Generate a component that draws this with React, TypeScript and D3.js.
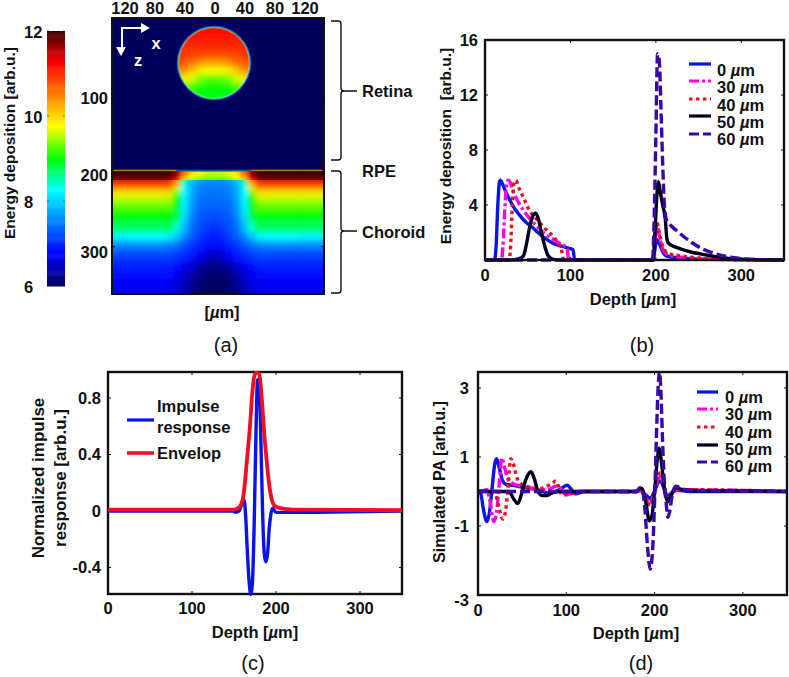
import React, { useEffect, useRef } from 'react';
import * as d3 from 'd3';

type Pt = [number, number];

// (a) colour map
const jetValues = [6, 6.75, 8.25, 9, 9.75, 11.25, 12];
const jetColors = ['#00005c', '#0000ff', '#00ffff', '#00ff00', '#ffff00', '#ff0000', '#3a0000'];
const colorbarTicks = [6, 8, 10, 12];
const lateralTicks = [-120, -80, -40, 0, 40, 80, 120];
const depthTicksA = [100, 200, 300];

// (a) choroid field: one half, mirrored about x = 0
const choroidCols = [0, 10, 20, 30, 40, 50, 60, 70, 160];
const bandRows = [198, 202, 206, 209];
const bandField = [
  [9.6, 9.6, 9.7, 9.9, 10.6, 11.7, 12, 12, 12],
  [9.6, 9.6, 9.7, 9.9, 10.6, 11.7, 12, 12, 12],
  [9.5, 9.5, 9.6, 9.8, 10.4, 11.6, 11.9, 11.9, 11.9],
  [9.3, 9.3, 9.4, 9.6, 10.1, 11.2, 11.7, 11.8, 11.8],
];
const choroidRows = [212, 216, 220, 228, 235, 244, 257, 275, 287, 297, 311, 324, 337, 349, 362];
const choroidField = [
  [7.65, 7.65, 7.75, 8, 8.7, 10.7, 11.3, 11.4, 11.4],
  [7.55, 7.55, 7.6, 7.8, 8.35, 10.2, 11, 11.05, 11.05],
  [7.5, 7.5, 7.55, 7.75, 8.25, 9.9, 10.6, 10.6, 10.6],
  [7.45, 7.45, 7.5, 7.75, 8.25, 9.3, 9.9, 9.9, 9.9],
  [7.4, 7.4, 7.45, 7.7, 8.2, 9.0, 9.55, 9.6, 9.6],
  [7.35, 7.35, 7.4, 7.65, 8.15, 8.95, 9.3, 9.3, 9.3],
  [7.2, 7.25, 7.3, 7.55, 8.05, 8.8, 9.0, 9.0, 9.0],
  [7.05, 7.1, 7.2, 7.4, 7.85, 8.4, 8.8, 8.75, 8.75],
  [6.9, 6.95, 7.1, 7.3, 7.55, 7.9, 8.2, 8.25, 8.2],
  [6.8, 6.85, 6.95, 7.05, 7.2, 7.4, 7.5, 7.55, 7.55],
  [6.5, 6.55, 6.75, 6.9, 7, 7.1, 7.15, 7.15, 7.15],
  [6.2, 6.25, 6.4, 6.55, 6.7, 6.85, 6.95, 6.95, 6.95],
  [6.05, 6.1, 6.2, 6.35, 6.55, 6.7, 6.8, 6.85, 6.85],
  [6, 6.02, 6.1, 6.25, 6.45, 6.6, 6.7, 6.75, 6.75],
  [5.98, 6, 6.05, 6.15, 6.35, 6.5, 6.6, 6.65, 6.65],
];

// (a) vessel cross-section
const vesselCenter = 55;
const vesselRadius = 48;
const vesselCols = [0, 10, 20, 30, 40, 50];
const vesselRows = [5, 15, 25, 35, 45, 55, 65, 75, 85, 95, 105];
const vesselField = [
  [11.15, 11.15, 11.15, 11.15, 11.15, 11.15],
  [11.15, 11.15, 11.15, 11.15, 11.15, 11.15],
  [11.1, 11.1, 11.1, 11.1, 11.1, 11.1],
  [11, 11, 11, 11, 11, 11.05],
  [10.75, 10.75, 10.8, 10.85, 10.9, 11],
  [10.3, 10.3, 10.4, 10.6, 10.7, 10.8],
  [9.75, 9.75, 9.85, 10.1, 10.4, 10.5],
  [9.25, 9.3, 9.4, 9.65, 9.85, 10],
  [9.05, 9.05, 9.1, 9.25, 9.4, 9.5],
  [8.95, 8.95, 9, 9.05, 9.2, 9.2],
  [8.9, 8.9, 8.9, 9, 9.1, 9.1],
];

// (b) energy deposition
const energy0: Pt[] = [[0, 0], [11, 0], [13, 1], [15, 4], [17, 5.7], [18, 5.8], [20, 5.6], [24, 5], [28, 4.5], [33, 3.9], [40, 3.3], [47, 2.8], [55, 2.4], [62, 2], [70, 1.6], [80, 1.2], [90, 1], [98, 0.85], [103, 0.75], [105, 0], [197, 0], [199, 0.8], [201, 1.5], [204, 1.2], [208, 0.6], [212, 0.3], [220, 0.2], [240, 0.1], [260, 0.05], [350, 0]];
const energy30: Pt[] = [[0, 0], [19, 0], [21, 1], [23, 3.5], [25, 5.3], [27, 5.8], [29, 5.7], [33, 5], [40, 4.1], [50, 3.2], [60, 2.5], [70, 1.9], [80, 1.5], [90, 1.1], [96, 0.9], [98, 0], [197, 0], [199, 1.5], [201, 2.5], [204, 1.8], [208, 0.8], [214, 0.4], [230, 0.2], [250, 0.1], [280, 0.03], [350, 0]];
const energy40: Pt[] = [[0, 0], [28, 0], [30, 1], [32, 4], [34, 5.6], [36, 5.8], [40, 5.2], [46, 4.4], [52, 3.6], [60, 3], [70, 2.3], [80, 1.7], [86, 1.2], [90, 0.6], [92, 0], [197, 0], [199, 1.8], [201, 2.8], [204, 2], [208, 1], [214, 0.5], [230, 0.3], [250, 0.15], [280, 0.05], [350, 0]];
const energy50: Pt[] = [[0, 0], [30, 0], [40, 0.1], [45, 0.3], [48, 1], [52, 2.3], [56, 3.2], [59, 3.4], [62, 3.1], [66, 2], [70, 1], [74, 0.3], [80, 0.05], [90, 0], [197, 0], [199, 2], [201, 4.5], [203, 5.7], [205, 5], [208, 4], [211, 3], [213, 1.5], [215, 1.2], [225, 0.9], [240, 0.6], [260, 0.35], [280, 0.15], [300, 0.05], [350, 0]];
const energy60: Pt[] = [[0, 0], [196, 0], [198, 3], [200, 9], [202, 15], [204, 14.5], [206, 11], [208, 7], [210, 4], [212, 3], [215, 2.7], [225, 2.1], [240, 1.35], [255, 0.8], [270, 0.45], [285, 0.22], [300, 0.1], [320, 0.03], [350, 0]];

// (c) impulse response
const impulse: Pt[] = [[0, 0], [148, 0], [152, -0.01], [156, 0], [160, 0.06], [162, 0.08], [164, -0.05], [166, -0.3], [168, -0.5], [170, -0.59], [172, -0.5], [174, -0.1], [176, 0.5], [178, 0.93], [180, 0.9], [182, 0.5], [184, 0], [186, -0.3], [188, -0.36], [190, -0.3], [192, -0.12], [194, -0.02], [196, 0.02], [200, -0.01], [210, -0.01], [350, 0]];
const envelop: Pt[] = [[0, 0.01], [150, 0.01], [155, 0.02], [158, 0.04], [161, 0.1], [163, 0.2], [166, 0.4], [169, 0.6], [172, 0.85], [175, 0.97], [177, 0.98], [180, 0.97], [183, 0.8], [186, 0.55], [189, 0.35], [192, 0.18], [195, 0.08], [198, 0.04], [205, 0.02], [220, 0.01], [350, 0.005]];

// (d) simulated PA
const pa0: Pt[] = [[0, 0], [3, -0.05], [6, -0.5], [10, -0.87], [13, -0.6], [16, 0.1], [19, 0.8], [21, 0.95], [24, 0.7], [28, 0.3], [32, 0.2], [40, 0.18], [50, 0.12], [60, 0.08], [70, 0.03], [80, -0.05], [88, 0], [95, 0.1], [101, 0.18], [106, 0.05], [110, -0.07], [114, -0.05], [120, 0], [180, 0], [184, 0.03], [190, -0.1], [195, -0.2], [199, -0.05], [204, 0.25], [207, 0.3], [211, 0.05], [215, -0.12], [220, -0.02], [225, 0.03], [240, 0], [350, 0]];
const pa30: Pt[] = [[0, 0], [5, 0.02], [10, 0.05], [13, -0.2], [18, -0.87], [21, -0.6], [24, 0.2], [27, 0.97], [30, 0.7], [34, 0.35], [40, 0.22], [50, 0.15], [60, 0.1], [70, 0.05], [80, 0.05], [88, 0.15], [93, 0.1], [97, -0.05], [103, -0.08], [110, -0.03], [120, 0], [180, 0], [184, 0.03], [190, -0.15], [195, -0.35], [199, -0.1], [204, 0.35], [207, 0.42], [211, 0.1], [215, -0.2], [220, -0.03], [228, 0.05], [350, 0]];
const pa40: Pt[] = [[0, 0], [15, 0.02], [20, -0.1], [24, -0.5], [28, -0.8], [31, -0.6], [34, 0.1], [37, 0.95], [40, 0.8], [44, 0.4], [50, 0.2], [60, 0.12], [70, 0.08], [78, 0.15], [85, 0.25], [88, 0.3], [92, 0.1], [95, -0.1], [100, -0.1], [110, -0.03], [120, 0], [180, 0], [184, 0.03], [190, -0.2], [195, -0.4], [199, -0.1], [204, 0.45], [207, 0.55], [211, 0.15], [215, -0.25], [220, -0.03], [228, 0.05], [350, 0]];
const pa50: Pt[] = [[0, 0], [35, 0], [40, -0.2], [45, -0.35], [49, -0.1], [53, 0.25], [57, 0.5], [60, 0.57], [64, 0.35], [68, 0], [73, -0.12], [78, -0.12], [85, -0.03], [92, 0], [180, 0], [183, 0.1], [186, 0.08], [190, -0.3], [194, -0.85], [197, -0.7], [200, 0], [203, 0.9], [205, 1.25], [208, 0.8], [211, 0.1], [215, -0.3], [219, -0.1], [224, 0.1], [232, 0.05], [245, 0.02], [350, 0]];
const pa60: Pt[] = [[0, 0], [180, 0], [183, 0.1], [186, 0.05], [189, -0.5], [192, -1.6], [195, -2.25], [198, -1.6], [200, -0.3], [202, 1.5], [204, 3], [205.5, 3.46], [207, 3], [209, 1.5], [211, 0.3], [213, -0.3], [215, -0.75], [217, -0.6], [220, -0.1], [224, 0.15], [232, 0.07], [245, 0.03], [350, 0]];

const widthLabels = ['0', '30', '40', '50', '60'];
const widthColors = ['#0a14e6', '#ff00e6', '#e0141c', '#00001e', '#3a08a8'];
const widthDashes = ['none', '10 3 3 3', '3.5 3.5', 'none', '10 4'];
const depthTicks = [0, 100, 200, 300];

const FONT = '"Liberation Sans", Arial, sans-serif';
const FS = 16.5;

const App: React.FC = () => {
  const svgRef = useRef<SVGSVGElement>(null);

  useEffect(() => {
    const svg = d3.select(svgRef.current);
    svg.selectAll('*').remove();
    const defs = svg.append('defs');

    const jet = d3.scaleLinear<string>().domain(jetValues).range(jetColors).clamp(true);

    const label = (x: number, y: number, str: string, anchor = 'middle', rotate = false, size = FS) => {
      const t = svg.append('text')
        .attr('font-family', FONT)
        .attr('font-size', size)
        .attr('font-weight', 'bold')
        .attr('fill', '#111')
        .attr('text-anchor', anchor)
        .attr('dominant-baseline', 'central')
        .style('white-space', 'pre');
      if (rotate) t.attr('transform', `translate(${x},${y}) rotate(-90)`);
      else t.attr('x', x).attr('y', y);
      // the micro sign is italic in all the labels
      str.split('µ').forEach((part, i) => {
        if (i > 0) t.append('tspan').attr('font-style', 'italic').text('µ');
        t.append('tspan').text(part);
      });
      return t;
    };

    // midpoints between table positions, outer cells run on past the clip
    const edges = (vals: number[], pad: number) => {
      const mids = d3.pairs(vals).map(([a, b]) => (a + b) / 2);
      return [vals[0] - pad, ...mids, vals[vals.length - 1] + pad];
    };

    // ---------- (a) ----------
    const hx = d3.scaleLinear().domain([-140, 140]).range([109, 319]);
    const hy = d3.scaleLinear().domain([-5, 363]).range([18, 294]);
    const tickX = d3.scaleLinear().domain([-120, 120]).range([125, 305]);
    const depthLabelY = d3.scaleLinear().domain([100, 300]).range([98, 252]);

    svg.append('rect').attr('x', 112).attr('y', 18).attr('width', 212).attr('height', 276).attr('fill', jet(6));

    const addBlur = (id: string, std: string) => {
      defs.append('filter').attr('id', id).attr('filterUnits', 'userSpaceOnUse')
        .attr('x', 60).attr('y', 0).attr('width', 320).attr('height', 340)
        .append('feGaussianBlur').attr('stdDeviation', std);
    };
    addBlur('blurVessel', '2.2 3');
    addBlur('blurChoroid', '2.4 3');
    addBlur('blurBand', '2 0.8');
    addBlur('blurRim', '0.4');

    defs.append('clipPath').attr('id', 'clipChoroid').append('rect')
      .attr('x', 113).attr('y', hy(199.5)).attr('width', 210).attr('height', 294 - hy(199.5));
    defs.append('clipPath').attr('id', 'clipBand').append('rect')
      .attr('x', 113).attr('y', hy(199.5)).attr('width', 210).attr('height', hy(211) - hy(199.5));
    defs.append('clipPath').attr('id', 'clipVessel').append('circle')
      .attr('cx', hx(0)).attr('cy', hy(vesselCenter)).attr('r', hx(vesselRadius) - hx(0));

    const drawField = (id: string, blur: string, cols: number[], rows: number[], field: number[][]) => {
      const g = svg.append('g').attr('clip-path', `url(#${id})`).append('g').attr('filter', `url(#${blur})`);
      const ce = edges(cols, 0);
      const re = edges(rows, 16);
      rows.forEach((_, r) => {
        cols.forEach((_, c) => {
          [-1, 1].forEach(side => {
            const x0 = hx(side * ce[c]);
            const x1 = hx(side * ce[c + 1]);
            g.append('rect')
              .attr('x', Math.min(x0, x1))
              .attr('y', hy(re[r]))
              .attr('width', Math.abs(x1 - x0) + 0.5)
              .attr('height', hy(re[r + 1]) - hy(re[r]) + 0.5)
              .attr('fill', jet(field[r][c]));
          });
        });
      });
    };
    drawField('clipChoroid', 'blurChoroid', choroidCols, choroidRows, choroidField);
    drawField('clipBand', 'blurBand', choroidCols, bandRows, bandField);
    drawField('clipVessel', 'blurVessel', vesselCols, vesselRows, vesselField);

    // vessel rim
    const rim = hx(vesselRadius) - hx(0);
    const rimG = svg.append('g').attr('fill', 'none').attr('filter', 'url(#blurRim)');
    rimG.append('circle').attr('cx', hx(0)).attr('cy', hy(vesselCenter)).attr('r', rim + 0.8)
      .attr('stroke', '#0a5cf0').attr('stroke-width', 1);
    rimG.append('circle').attr('cx', hx(0)).attr('cy', hy(vesselCenter)).attr('r', rim)
      .attr('stroke', '#20e8d0').attr('stroke-width', 0.7);
    rimG.append('circle').attr('cx', hx(0)).attr('cy', hy(vesselCenter)).attr('r', rim - 0.8)
      .attr('stroke', '#c8f050').attr('stroke-width', 0.7).attr('opacity', 0.7);

    // RPE line
    [[-134, -50, 10.3, 1], [-50, 50, 8.2, 0.5], [50, 145, 10.3, 1]].forEach(([a, b, v, o]) => {
      svg.append('line').attr('x1', hx(a)).attr('x2', hx(b)).attr('y1', hy(198)).attr('y2', hy(198))
        .attr('stroke', jet(v)).attr('stroke-width', 1.1).attr('opacity', o);
    });

    svg.append('rect').attr('x', 112).attr('y', 18).attr('width', 212).attr('height', 276)
      .attr('fill', 'none').attr('stroke', '#111').attr('stroke-width', 2);
    depthTicksA.forEach(d => {
      svg.append('line').attr('x1', 112).attr('x2', 115).attr('y1', hy(d)).attr('y2', hy(d)).attr('stroke', '#111');
      svg.append('line').attr('x1', 321).attr('x2', 324).attr('y1', hy(d)).attr('y2', hy(d)).attr('stroke', '#111');
      label(108, depthLabelY(d), String(d), 'end');
    });
    lateralTicks.forEach(d => label(tickX(d), 8, String(Math.abs(d))));
    label(222, 312, '[µm]');

    // x / z arrows
    const white = svg.append('g').attr('stroke', '#fff').attr('stroke-width', 2).attr('fill', 'none');
    white.append('path').attr('d', 'M143,28 H122 V47');
    svg.append('path').attr('d', 'M141,23 L150,28 L141,33 Z').attr('fill', '#fff');
    svg.append('path').attr('d', 'M116,47 L121,56 L126,47 Z').attr('fill', '#fff');
    label(156, 43, 'x').attr('fill', '#fff');
    label(138, 60, 'z').attr('fill', '#fff');

    // colour bar
    const cy = d3.scaleLinear().domain([6, 12]).range([286, 31]);
    d3.range(6, 12, 0.025).forEach(v => {
      svg.append('rect').attr('x', 47).attr('width', 18).attr('y', cy(v + 0.025)).attr('height', cy(v) - cy(v + 0.025) + 0.5)
        .attr('fill', jet(v));
    });
    colorbarTicks.forEach(v => {
      label(24, cy(v) + 1, String(v), 'start');
      svg.append('line').attr('x1', 47).attr('x2', 49).attr('y1', cy(v)).attr('y2', cy(v)).attr('stroke', '#333').attr('stroke-width', 0.6);
      svg.append('line').attr('x1', 63).attr('x2', 65).attr('y1', cy(v)).attr('y2', cy(v)).attr('stroke', '#333').attr('stroke-width', 0.6);
    });
    label(9, 143, 'Energy deposition [arb.u.]', 'middle', true, 15.5);

    // brackets
    const bracket = (y0: number, y1: number, ym: number) => {
      svg.append('path')
        .attr('d', `M331,${y0} H338 Q341,${y0} 341,${y0 + 3} V${ym - 3} Q341,${ym} 344,${ym} H357 M344,${ym} Q341,${ym} 341,${ym + 3} V${y1 - 3} Q341,${y1} 338,${y1} H331`)
        .attr('fill', 'none').attr('stroke', '#111').attr('stroke-width', 1.4);
    };
    bracket(21, 160, 91);
    bracket(171, 293, 231);
    label(362, 91, 'Retina', 'start');
    label(362, 171, 'RPE', 'start');
    label(362, 232, 'Choroid', 'start');

    label(226, 345, '(a)', 'middle', false, 20).attr('font-weight', 'normal');
    label(642, 345, '(b)', 'middle', false, 20).attr('font-weight', 'normal');
    label(253, 663, '(c)', 'middle', false, 20).attr('font-weight', 'normal');
    label(641, 663, '(d)', 'middle', false, 20).attr('font-weight', 'normal');

    // ---------- line panels ----------
    const frame = (
      x: d3.ScaleLinear<number, number>,
      y: d3.ScaleLinear<number, number>,
      yTicks: number[],
      yFmt: (v: number) => string,
      tickLabelX: number,
      xLabelY: number,
    ) => {
      const [x0, x1] = x.range();
      const [y0, y1] = y.range();
      const g = svg.append('g').attr('stroke', '#111');
      depthTicks.forEach(d => {
        g.append('line').attr('x1', x(d)).attr('x2', x(d)).attr('y1', y0).attr('y2', y0 - 3);
        g.append('line').attr('x1', x(d)).attr('x2', x(d)).attr('y1', y1).attr('y2', y1 + 3);
        label(x(d), xLabelY, String(d));
      });
      yTicks.forEach(v => {
        g.append('line').attr('x1', x0).attr('x2', x0 + 3).attr('y1', y(v)).attr('y2', y(v));
        g.append('line').attr('x1', x1).attr('x2', x1 - 3).attr('y1', y(v)).attr('y2', y(v));
        label(tickLabelX, y(v), yFmt(v), 'end');
      });
      return () => {
        svg.append('rect').attr('x', x0).attr('y', y1).attr('width', x1 - x0).attr('height', y0 - y1)
          .attr('fill', 'none').attr('stroke', '#111').attr('stroke-width', 2.4);
      };
    };

    const drawLine = (
      x: d3.ScaleLinear<number, number>,
      y: d3.ScaleLinear<number, number>,
      pts: Pt[],
      color: string,
      dash: string,
      w = 3.4,
    ) => {
      const line = d3.line<Pt>().x(d => x(d[0])).y(d => y(d[1])).curve(d3.curveMonotoneX);
      svg.append('path').datum(pts).attr('d', line)
        .attr('fill', 'none').attr('stroke', color).attr('stroke-width', w)
        .attr('stroke-dasharray', dash).attr('stroke-linejoin', 'round');
    };

    const widthLegend = (lx0: number, lx1: number, tx: number, lys: number[], tys: number[]) => {
      widthLabels.forEach((name, i) => {
        svg.append('line').attr('x1', lx0).attr('x2', lx1).attr('y1', lys[i]).attr('y2', lys[i])
          .attr('stroke', widthColors[i]).attr('stroke-width', 3.2).attr('stroke-dasharray', widthDashes[i]);
        label(tx, tys[i], `${name} µm`, 'start');
      });
    };

    // (b)
    const xb = d3.scaleLinear().domain([0, 350]).range([485, 784]);
    const yb = d3.scaleLinear().domain([0, 16]).range([260, 40]);
    const closeB = frame(xb, yb, [4, 8, 12, 16], String, 478, 275);
    [energy0, energy30, energy40, energy50, energy60].forEach((s, i) => drawLine(xb, yb, s, widthColors[i], widthDashes[i]));
    closeB();
    widthLegend(689, 711, 717, [64, 81, 99, 116, 134], [70, 87, 105, 122, 139]);
    label(633, 299, 'Depth [µm]');
    label(445, 146, 'Energy deposition  [arb.u.]', 'middle', true, 15.5);

    // (c)
    const xc = d3.scaleLinear().domain([0, 350]).range([108, 402]);
    const yc = d3.scaleLinear().domain([-0.588, 0.984]).range([594, 372]);
    const closeC = frame(xc, yc, [-0.4, 0, 0.4, 0.8], d => (d === 0 ? '0' : String(d)), 101, 608);
    closeC();
    drawLine(xc, yc, impulse, '#0a14e6', 'none');
    drawLine(xc, yc, envelop, '#ee1020', 'none', 3.8);
    svg.append('line').attr('x1', 127).attr('x2', 154).attr('y1', 420).attr('y2', 420).attr('stroke', '#0a14e6').attr('stroke-width', 3.2);
    svg.append('line').attr('x1', 127).attr('x2', 154).attr('y1', 453).attr('y2', 453).attr('stroke', '#ee1020').attr('stroke-width', 3.6);
    label(157, 406, 'Impulse', 'start');
    label(157, 427, 'response', 'start');
    label(157, 453, 'Envelop', 'start');
    label(255, 632, 'Depth [µm]');
    label(38, 478, 'Normalized impulse', 'middle', true, 17);
    label(60, 478, 'response [arb.u.]', 'middle', true, 17);

    // (d)
    const xd = d3.scaleLinear().domain([0, 350]).range([478, 787]);
    const yd = d3.scaleLinear().domain([-3, 3.46]).range([595, 372]);
    const closeD = frame(xd, yd, [-1, 1, 3], String, 469, 610);
    label(469, 600, '-3', 'end');
    [pa0, pa30, pa40, pa50, pa60].forEach((s, i) => drawLine(xd, yd, s, widthColors[i], widthDashes[i]));
    closeD();
    widthLegend(697, 718, 725, [392, 409, 427, 445, 462], [397, 414, 432, 449, 466]);
    label(636, 633, 'Depth [µm]');
    label(439, 482, 'Simulated PA [arb.u.]', 'middle', true, 16.2);
  }, []);

  return (
    <svg
      ref={svgRef}
      width={789}
      height={677}
      style={{ position: 'absolute', left: 0, top: 0, background: '#fff' }}
    />
  );
};

export default App;
